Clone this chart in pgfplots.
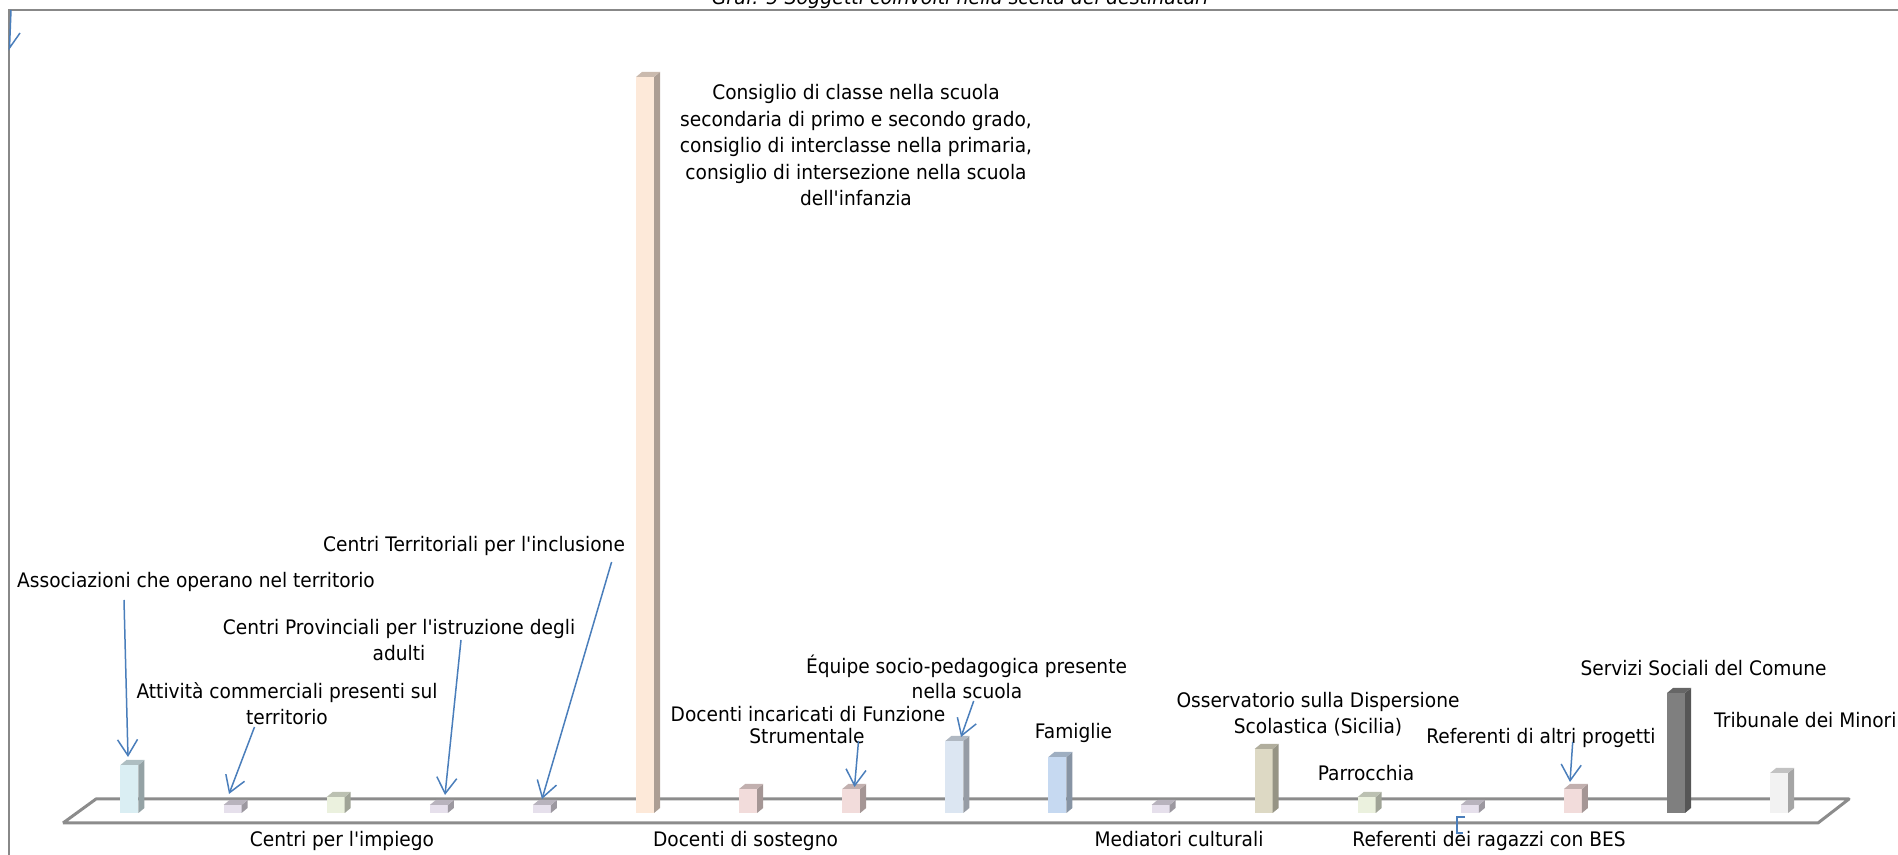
\documentclass[border=0pt]{standalone}
\usepackage{fontspec}
\setmainfont{DejaVu Sans}[FakeStretch=0.93, Ligatures=TeXOff]
\newfontfamily\titlefont{DejaVu Sans Oblique}[FakeStretch=0.95, Ligatures=TeXOff]
\usepackage{pgfplots}
\pgfplotsset{compat=1.18}
\usetikzlibrary{arrows.meta}

\definecolor{cAssoc}{HTML}{DAEEF3}
\definecolor{cLav}{HTML}{E6E0EC}
\definecolor{cGreen}{HTML}{EBF1DE}
\definecolor{cPeach}{HTML}{FDE9D9}
\definecolor{cPink}{HTML}{F2DCDB}
\definecolor{cBlueA}{HTML}{DCE6F2}
\definecolor{cBlueB}{HTML}{C6D9F1}
\definecolor{cTan}{HTML}{DDD9C4}
\definecolor{cGray}{HTML}{7F7F7F}
\definecolor{cWhite}{HTML}{F2F2F2}
\definecolor{floorgray}{HTML}{8C8C8C}
\definecolor{framegray}{HTML}{888888}
\definecolor{arrowblue}{HTML}{4A7EBB}

% 3-D bar: index, value, colour
\newcommand\tbar[3]{%
 \pgfmathsetmacro\xL{#1-0.0873}%
 \pgfmathsetmacro\xR{#1+0.0873}%
 \pgfmathsetmacro\xS{#1+0.0873+0.0582}%
 \pgfmathsetmacro\xT{#1-0.0873+0.0582}%
 \pgfmathsetmacro\yB{0.625}%
 \pgfmathsetmacro\yT{#2+0.625}%
 \addplot[ybar, bar width=0.1746, bar shift=0pt, draw=none, fill=#3] coordinates {(#1,#2)};
 \addplot[draw=none, fill=#3!68!black] coordinates {(\xR,0) (\xS,\yB) (\xS,\yT) (\xR,#2)};
 \addplot[draw=none, fill=#3!80!black] coordinates {(\xL,#2) (\xR,#2) (\xS,\yT) (\xT,\yT)};
}

\begin{document}
\begin{tikzpicture}
\begin{axis}[
  at={(0,0)}, anchor=south west,
  scale only axis, width=1898pt, height=854pt,
  xmin=-0.256, xmax=18.153, ymin=-5.125, ymax=101.625,
  hide axis, clip=false]
% floor
\addplot[draw=floorgray, line width=3pt, line join=round]
  coordinates {(0.355,-1.25) (0.675,1.75) (17.678,1.75) (17.377,-1.25) (0.355,-1.25)};
% bars: index, value, colour
\tbar{1}{6}{cAssoc}
\tbar{2}{1}{cLav}
\tbar{3}{2}{cGreen}
\tbar{4}{1}{cLav}
\tbar{5}{1}{cLav}
\tbar{6}{92}{cPeach}
\tbar{7}{3}{cPink}
\tbar{8}{3}{cPink}
\tbar{9}{9}{cBlueA}
\tbar{10}{7}{cBlueB}
\tbar{11}{1}{cLav}
\tbar{12}{8}{cTan}
\tbar{13}{2}{cGreen}
\tbar{14}{1}{cLav}
\tbar{15}{3}{cPink}
\tbar{16}{15}{cGray}
\tbar{17}{5}{cWhite}
\end{axis}

\begin{scope}[x=1pt, y=-1pt, shift={(0pt,854pt)},
  lab/.style={anchor=base, inner sep=0pt, font=\fontsize{20}{26}\selectfont},
  arr/.style={draw=arrowblue, line width=1.5pt, -{Straight Barb[length=16pt,width=20pt]}}]
% frame
\draw[framegray, line width=2.5pt] (9,860) -- (9,10) -- (1905,10);
% title (cut by page top)
\node[anchor=base, inner sep=0pt, font=\titlefont\fontsize{20}{24}\selectfont] at (960,5)
  {Graf. 5 Soggetti coinvolti nella scelta dei destinatari};
% stray line top-left
\draw[arrowblue, line width=1.5pt] (11,10) -- (9.5,48) -- (20,33);

% labels
\node[lab] at (196,588) {Associazioni che operano nel territorio};
\node[lab] at (287,699) {Attività commerciali presenti sul};
\node[lab] at (287,725) {territorio};
\node[lab] at (399,635) {Centri Provinciali per l'istruzione degli};
\node[lab] at (399,661) {adulti};
\node[lab] at (474,552) {Centri Territoriali per l'inclusione};
\node[lab] at (342,846) {Centri per l'impiego};
\node[lab] at (856,100) {Consiglio di classe nella scuola};
\node[lab] at (856,126.5) {secondaria di primo e secondo grado,};
\node[lab] at (856,153) {consiglio di interclasse nella primaria,};
\node[lab] at (856,179.5) {consiglio di intersezione nella scuola};
\node[lab] at (856,206) {dell'infanzia};
\node[lab] at (745.5,846) {Docenti di sostegno};
\node[lab] at (808,722) {Docenti incaricati di Funzione};
\node[lab] at (807,744) {Strumentale};
\node[lab] at (966.5,674) {Équipe socio-pedagogica presente};
\node[lab] at (967,699) {nella scuola};
\node[lab] at (1073.5,739) {Famiglie};
\node[lab] at (1179,846) {Mediatori culturali};
\node[lab] at (1318,708) {Osservatorio sulla Dispersione};
\node[lab] at (1318,733.5) {Scolastica (Sicilia)};
\node[lab] at (1366,781) {Parrocchia};
\node[lab] at (1489,846) {Referenti dei ragazzi con BES};
\node[lab] at (1541,744) {Referenti di altri progetti};
\node[lab] at (1703.5,676) {Servizi Sociali del Comune};
\node[lab, anchor=base west] at (1714,728) {Tribunale dei Minori};

% arrows
\draw[arr] (124,600) -- (128,757);
\draw[arr] (254.5,727) -- (229,794);
\draw[arr] (461,640) -- (445,795);
\draw[arr] (611.6,562) -- (542,799);
\draw[arr] (858.5,741) -- (854.5,787);
\draw[arr] (973.7,701) -- (961,737);
\draw[arr] (1572.7,742) -- (1570,782);
\draw[arrowblue, line width=1.5pt] (1465,817) -- (1457,817) -- (1457,833) -- (1463,833);
\end{scope}

\pgfresetboundingbox
\useasboundingbox (0,0) rectangle (1898pt,854pt);
\end{tikzpicture}
\end{document}
